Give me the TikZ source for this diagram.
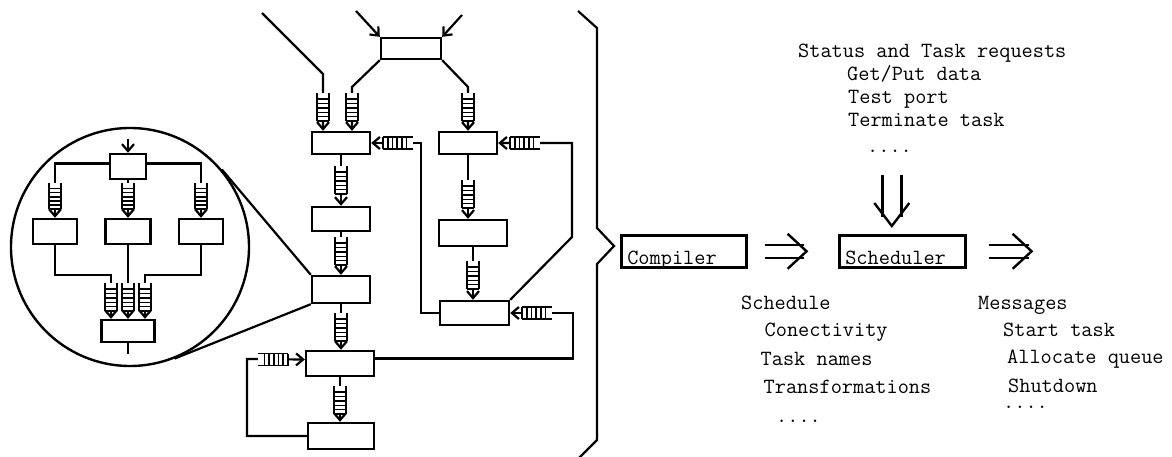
\documentclass[tikz,border=0pt]{standalone}
\usetikzlibrary{calc}
\usetikzlibrary{arrows.meta}
\usetikzlibrary{positioning}

\tikzset{
  task/.style 2 args={draw, line width=2.4pt, inner sep=0pt, minimum width=#1, minimum height=#2},
  link/.style={line width=2.2pt, -{Straight Barb[length=7pt,width=12pt]}},
  wire/.style={line width=2.2pt},
  lbl/.style={font=\fontsize{21.7pt}{26pt}\selectfont\ttfamily, inner sep=0pt, anchor=base west},
  stage/.style={draw, line width=2.6pt, inner xsep=6pt, inner ysep=0pt, text width=#1, align=left,
    text height=28.7pt, text depth=3.3pt, font=\fontsize{21.7pt}{26pt}\selectfont\ttfamily},
  queue/.pic={
    \fill[white] (-6,0) rectangle (6,#1);
    \draw[line width=1.8pt] (-6,0) -- (-6,#1) (6,0) -- (6,#1);
    \foreach \f in {0.21,0.37,0.53,0.69,0.84,1}
      \draw[line width=1.5pt] (-6,\f*#1) -- (6,\f*#1);
  },
  % length, half gap, line end, chevron length
  pics/implies/.style n args={4}{code={
    \draw[line width=2.4pt] (0,-#2) -- (#1-#3,-#2) (0,#2) -- (#1-#3,#2);
    \draw[line width=2.4pt, line join=miter] (#1-#4,-17.5) -- (#1,0) -- (#1-#4,17.5);
  }}
}

\begin{document}
\begin{tikzpicture}[x=1pt,y=-1pt]
\useasboundingbox (0,0) rectangle (1172,457);

% task graph
\node[task={60}{21}] (T) at (411,48.5) {};
\node[task={58}{22}] (A) at (341,143) {};
\node[task={58}{24}] (B) at (341,219) {};
\node[task={58}{27}] (C) at (341,289.5) {};
\node[task={68}{25}] (D) at (340,363.5) {};
\node[task={66}{26}] (E) at (341,436) {};
\node[task={58}{22}] (F) at (468,143) {};
\node[task={68}{26}] (G) at (473,233) {};
\node[task={69}{24}] (H) at (474.5,313) {};

\coordinate (src1) at (262,13);
\coordinate (src2) at (356,11);
\coordinate (src3) at (462,15);
\draw[link] (src2) -- (T.north west);
\draw[link] (src3) -- (T.north east);
\draw[link] (src1) -- (323,74) -- ([xshift=-18]A.north);
\draw[link] (T.south west) -- (352,87) -- ([xshift=11]A.north);
\draw[link] (T.south east) -- (468,87) -- (F.north);

\draw[link] (A.south) -- (A.south |- B.north);
\draw[link] (B.south) -- (B.south |- C.north);
\draw[link] (C.south) -- (C.south |- D.north);
\draw[link] (D.south) -- (D.south |- E.north);
\draw[link] (F.south) -- (F.south |- G.north);
\draw[link] (G.south) -- (G.south |- H.north);

% feedback
\draw[link] (H.west) -| ([xshift=50]A.east) -- (A.east);
\draw[link] (H.north east) -- (572,237) |- (F.east);
\draw[link] ([yshift=5]D.east) -| ([xshift=63]H.east) -- (H.east);
\draw[link] (E.west) -| (247,359) -- ([yshift=4]D.west);

\foreach \qx/\qy in {323/93, 352/93, 468/93, 341/166, 341/237, 341/313, 340/386, 468/180, 473/261}
  \pic at (\qx,\qy) {queue=28};
\pic[rotate=-90] at (413,143) {queue=30};
\pic[rotate=-90] at (540,143) {queue=30};
\pic[rotate=-90] at (552,313) {queue=30};
\pic[rotate=90] at (258,359.5) {queue=30};

% zoomed task
\node[draw, circle, line width=2.4pt, inner sep=0pt, minimum size=238] (zoom) at (130,247) {};
\draw[wire] (C.north west) -- (tangent cs:node=zoom,point={(C.north west)},solution=1);
\draw[wire] (C.south west) -- (tangent cs:node=zoom,point={(C.south west)},solution=2);

\node[task={36}{25}] (t0) at (128,166.5) {};
\node[task={44}{25}] (l1) at (55,231.5) {};
\node[task={45}{25}] (m1) at (128,231.5) {};
\node[task={44}{25}] (r1) at (201,231.5) {};
\node[task={53}{22}] (b1) at (128,331) {};

\coordinate (zin) at (128,139);
\draw[link] (zin) -- (t0.north);
\draw[link] ([yshift=3]t0.west) -| (l1.north);
\draw[link] (t0.south) -- (t0.south |- m1.north);
\draw[link] ([yshift=3]t0.east) -| (r1.north);
\draw[link] (l1.south) -- ++(0,30) -| ([xshift=-17]b1.north);
\draw[link] (m1.south) -- (m1.south |- b1.north);
\draw[link] (r1.south) -- ++(0,30) -| ([xshift=17]b1.north);
\draw[wire] (b1.south) -- ++(0,11);

\foreach \qx in {55,128,201} \pic at (\qx,183) {queue=26};
\foreach \qx in {111,128,145} \pic at (\qx,283) {queue=28};

% brace
\draw[wire, line join=miter] (578,11) -- (597,28) -- (597,228) -- (614,246) -- (597,264) -- (597,440) -- (576,461);

% compiler and scheduler
\node[stage=113pt, anchor=north west] (comp) at (620,234) {Compiler};
\node[stage=114pt, anchor=north west] (sched) at (838,234) {Scheduler};
\pic at ([xshift=17]comp.east) {implies={42}{6.5}{2.5}{19}};
\pic at ([xshift=22]sched.east) {implies={43}{6.5}{2.5}{19}};
\pic[rotate=-90] at ([xshift=-10.5,yshift=59]sched.north) {implies={51}{9.5}{9}{23}};

\node[lbl] (stat) at (798,57.5) {Status and Task requests};
\node[lbl] (getput) at (847,81) {Get/Put data};
\node[lbl] (test) at (848,104) {Test port};
\node[lbl] (term) at (848,127) {Terminate task};
\node[lbl] (dots1) at (867,153) {....};

\node[lbl] (sch) at (741,309) {Schedule};
\node[lbl] (conn) at (764.5,336) {Conectivity};
\node[lbl] (tnames) at (760.5,365.5) {Task names};
\node[lbl] (trans) at (763.5,393.7) {Transformations};
\node[lbl] (dots2) at (776,422) {....};

\node[lbl] (msg) at (978,309) {Messages};
\node[lbl] (start) at (1003,336) {Start task};
\node[lbl] (alloc) at (1007,363) {Allocate queue};
\node[lbl] (shut) at (1008,392) {Shutdown};
\node[lbl] (dots3) at (1003,408) {....};
\end{tikzpicture}
\end{document}
